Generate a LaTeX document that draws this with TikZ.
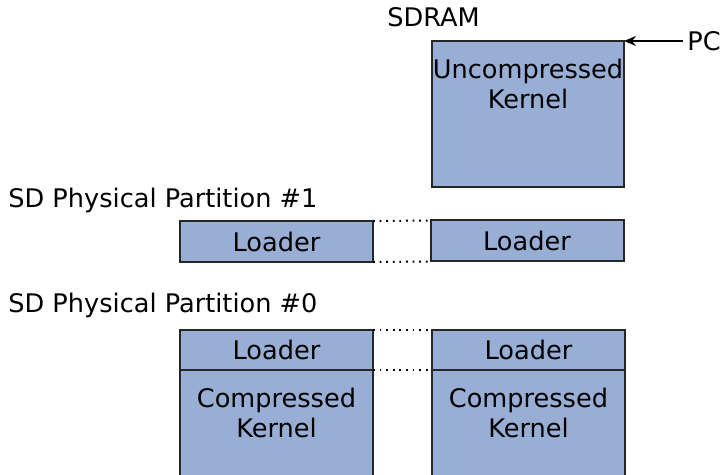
\documentclass[tikz,border=0pt]{standalone}
\usepackage{fontspec}
\setmainfont{DejaVu Sans}
\usetikzlibrary{arrows.meta,positioning}
\definecolor{blockfill}{RGB}{152,174,212}

\begin{document}
\begin{tikzpicture}[
    x=0.5pt, y=-0.5pt,
    font=\fontsize{12.8}{15}\selectfont,
    block/.style={draw=black!85, line width=1pt, fill=blockfill, minimum width=96.5pt, minimum height=20.5pt, inner sep=0pt, outer sep=0pt, align=center},
    caption/.style={anchor=base west, inner sep=0pt},
    blocktext/.style={inner sep=0pt, align=center},
    dotline/.style={line width=1pt, dash pattern=on 0.9pt off 2.4pt},
    arrow/.style={-{Stealth[length=6pt,width=5pt]}, line width=0.9pt}
]
    \clip (0,0) rectangle (723,475);

    % SDRAM holding the unpacked kernel
    \node[caption] (sdramlbl) at (387,27) {SDRAM};
    \node[block, minimum width=96pt, minimum height=73pt] (sdram) at (528,114) {};
    \node[blocktext, below=9pt of sdram.north] (ukern) {Uncompressed\\Kernel};
    \node[anchor=west, inner sep=2pt] (pc) at (683,41) {PC};
    \draw[arrow] (pc.west) -- (pc.west -| sdram.east);

    % Partition 1: loader copy
    \node[caption] (p1lbl) at (8,208) {SD Physical Partition \#1};
    \node[block] (ldra) at (276.5,241.5) {Loader};
    \node[block] (ldrb) at (527,241) {Loader};
    \draw[dotline] (ldra.north east) -- (ldrb.north west);
    \draw[dotline] (ldra.south east) -- (ldrb.south west);

    % Partition 0: loader followed by the packed kernel
    \node[caption] (p0lbl) at (8,313) {SD Physical Partition \#0};
    \node[block, minimum height=20pt] (ldrc) at (276.5,350) {Loader};
    \node[block, minimum height=60pt, anchor=north] (kerna) at (ldrc.south) {};
    \node[blocktext, below=9pt of kerna.north] (ckerna) {Compressed\\Kernel};
    \node[block, minimum height=20pt] (ldrd) at (528.5,350) {Loader};
    \node[block, minimum height=60pt, anchor=north] (kernb) at (ldrd.south) {};
    \node[blocktext, below=9pt of kernb.north] (ckernb) {Compressed\\Kernel};
    \draw[dotline] (ldrc.north east) -- (ldrd.north west);
    \draw[dotline] (ldrc.south east) -- (ldrd.south west);
\end{tikzpicture}
\end{document}
